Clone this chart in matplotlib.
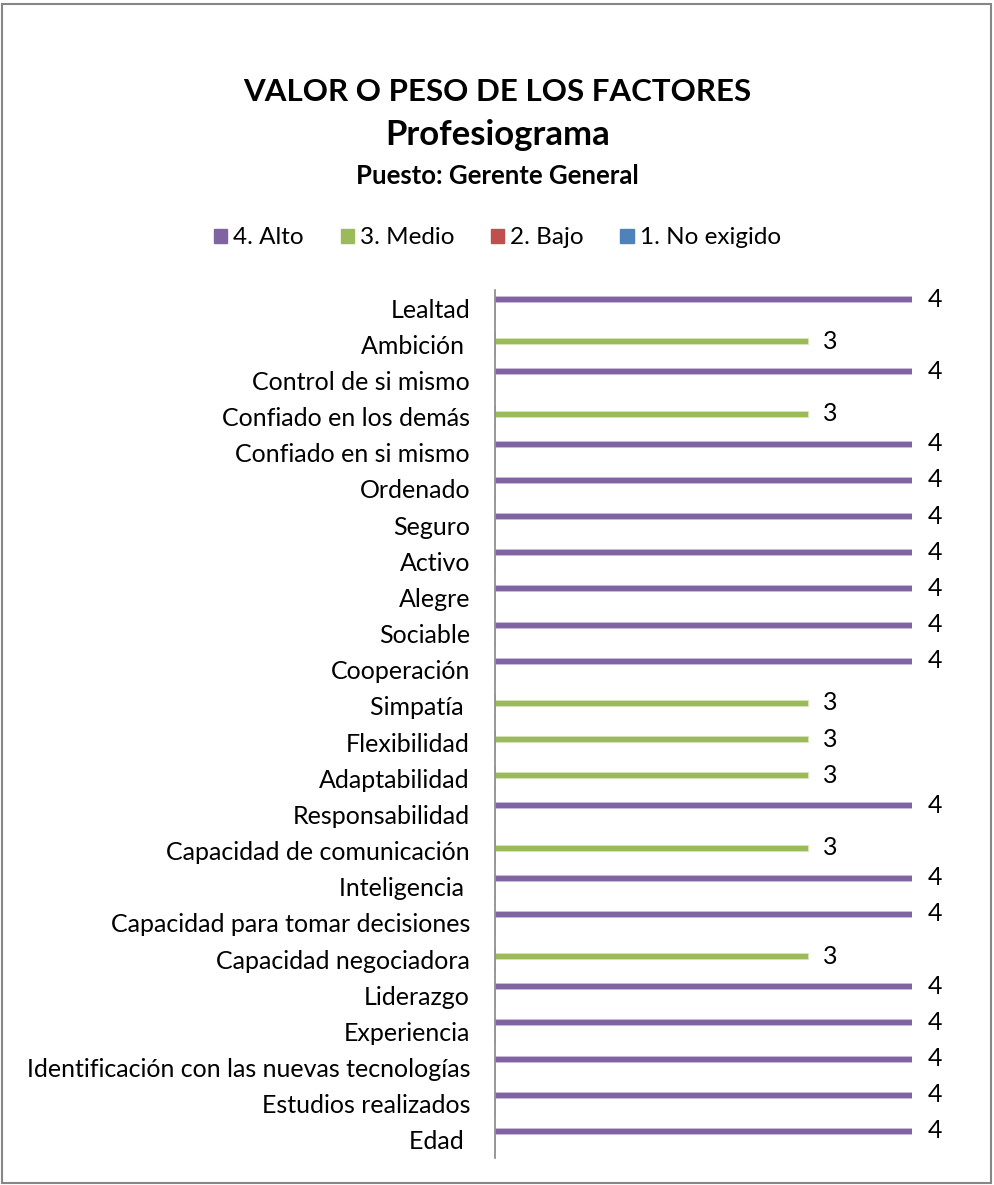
import numpy as np
import matplotlib
matplotlib.use("Agg")
import matplotlib.pyplot as plt
from matplotlib.patches import Rectangle

plt.rcParams['font.family'] = ['Lato', 'DejaVu Sans']

# Categories, top to bottom
factores = ["Lealtad", "Ambición ", "Control de si mismo", "Confiado en los demás",
            "Confiado en si mismo", "Ordenado", "Seguro", "Activo", "Alegre",
            "Sociable", "Cooperación", "Simpatía ", "Flexibilidad", "Adaptabilidad",
            "Responsabilidad", "Capacidad de comunicación", "Inteligencia ",
            "Capacidad para tomar decisiones", "Capacidad negociadora", "Liderazgo",
            "Experiencia", "Identificación con las nuevas tecnologías",
            "Estudios realizados", "Edad "]

nan = np.nan
alto = [4, nan, 4, nan, 4, 4, 4, 4, 4, 4, 4, nan, nan, nan, 4, nan, 4, 4, nan, 4, 4, 4, 4, 4]
medio = [nan, 3, nan, 3, nan, nan, nan, nan, nan, nan, nan, 3, 3, 3, nan, 3, nan, nan, 3, nan, nan, nan, nan, nan]
bajo = [nan] * 24
no_exigido = [nan] * 24

series = [("4. Alto", alto, "#8064A2"),
          ("3. Medio", medio, "#9BBB59"),
          ("2. Bajo", bajo, "#C0504D"),
          ("1. No exigido", no_exigido, "#4F81BD")]

fig = plt.figure(figsize=(9.95, 11.85), dpi=100)
ax = fig.add_axes([0.4975, 0.0228, 0.4191, 0.7325])

y = np.arange(len(factores))
h = 0.166
offsets = [-1.5 * h, -0.5 * h, 0.5 * h, 1.5 * h]
handles = []
for (name, vals, col), off in zip(series, offsets):
    vals = np.array(vals, dtype=float)
    ax.barh(y + off, np.nan_to_num(vals), height=h, color=col,
            edgecolor="#c9bcdc" if col == "#8064A2" else "#d7e4bd", linewidth=0.6)
    handles.append(Rectangle((0, 0), 1, 1, color=col))
    for yi, v in zip(y + off, vals):
        if not np.isnan(v):
            ax.text(v + 0.15, yi, f"{v:g}", va="center", ha="left",
                    fontsize=18, clip_on=False)

ax.set_xlim(0, 4)
ax.set_ylim(len(factores) - 0.5, -0.5)
ax.set_yticks(y)
ax.set_yticklabels(factores, fontsize=18)
ax.tick_params(axis="y", length=0, pad=18)
ax.set_xticks([])
for s in ["top", "right", "bottom"]:
    ax.spines[s].set_visible(False)
ax.spines["left"].set_color("#868686")
ax.spines["left"].set_linewidth(1.2)

fig.text(0.5, 1 - 92 / 1185, "VALOR O PESO DE LOS FACTORES", ha="center", va="center",
         fontsize=22.5, fontweight="bold")
fig.text(0.5, 1 - 135 / 1185, "Profesiograma", ha="center", va="center",
         fontsize=25, fontweight="bold")
fig.text(0.5, 1 - 176 / 1185, "Puesto: Gerente General", ha="center", va="center",
         fontsize=18.5, fontweight="bold")

fig.legend(handles, [s[0] for s in series], loc="center", ncol=4,
           bbox_to_anchor=(0.5, 1 - 238 / 1185), frameon=False, fontsize=17.5,
           handlelength=0.55, handleheight=0.55, handletextpad=0.25, columnspacing=1.5)

fig.patches.append(Rectangle((0.002, 0.002), 0.994, 0.995, transform=fig.transFigure,
                             fill=False, edgecolor="#868686", linewidth=1.5))

fig.savefig("out.png", dpi=100)
